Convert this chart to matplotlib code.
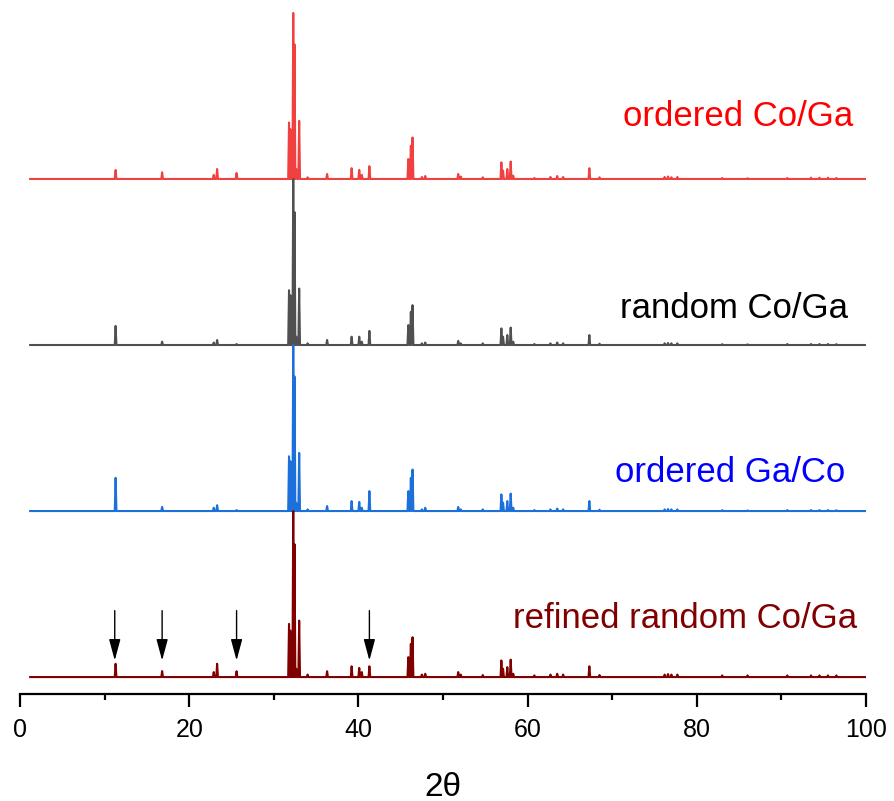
import numpy as np
import matplotlib
matplotlib.use('Agg')
import matplotlib.pyplot as plt

plt.rcParams['font.family'] = ['Liberation Sans', 'DejaVu Sans']

# Peak positions (2 theta) shared by the four patterns
pos_picos = [11.3, 16.8, 22.9, 23.3, 25.6, 31.8, 31.95, 32.3, 32.45, 32.65, 33.0,
             34.0, 36.3, 39.2, 40.1, 40.4, 41.3, 45.9, 46.2, 46.4, 47.5, 47.9,
             51.8, 52.1, 54.7, 56.9, 57.1, 57.6, 58.0, 58.3, 60.8, 62.7, 63.5,
             64.2, 67.3, 68.5, 76.2, 76.6, 77.0, 77.7, 83.0, 86.0, 90.7, 93.5,
             94.5, 95.5, 96.5]

# Relative intensities (max = 1)
int_ordered_coga = [0.054, 0.040, 0.025, 0.060, 0.036, 0.34, 0.30, 1.0, 0.81, 0.06, 0.35,
                    0.010, 0.030, 0.065, 0.055, 0.025, 0.077, 0.12, 0.20, 0.25, 0.012, 0.018,
                    0.030, 0.015, 0.010, 0.10, 0.05, 0.06, 0.105, 0.02, 0.006, 0.012, 0.018,
                    0.012, 0.065, 0.010, 0.012, 0.015, 0.010, 0.012, 0.006, 0.005, 0.006, 0.008,
                    0.008, 0.008, 0.006]
int_random_coga = [0.115, 0.020, 0.015, 0.030, 0.006, 0.33, 0.30, 1.0, 0.80, 0.05, 0.34,
                   0.010, 0.030, 0.050, 0.050, 0.020, 0.085, 0.12, 0.20, 0.24, 0.010, 0.015,
                   0.025, 0.010, 0.010, 0.10, 0.05, 0.06, 0.105, 0.02, 0.006, 0.010, 0.015,
                   0.010, 0.060, 0.008, 0.010, 0.012, 0.010, 0.010, 0.005, 0.004, 0.006, 0.006,
                   0.006, 0.006, 0.005]
int_ordered_gaco = [0.20, 0.025, 0.020, 0.035, 0.006, 0.33, 0.30, 1.0, 0.81, 0.05, 0.35,
                    0.010, 0.030, 0.060, 0.055, 0.020, 0.12, 0.12, 0.20, 0.25, 0.010, 0.020,
                    0.025, 0.010, 0.010, 0.10, 0.05, 0.06, 0.105, 0.02, 0.006, 0.010, 0.015,
                    0.010, 0.060, 0.008, 0.010, 0.012, 0.010, 0.010, 0.005, 0.004, 0.006, 0.006,
                    0.006, 0.006, 0.005]
int_refined = [0.080, 0.036, 0.030, 0.080, 0.035, 0.32, 0.28, 1.0, 0.80, 0.05, 0.34,
               0.015, 0.035, 0.065, 0.055, 0.030, 0.065, 0.12, 0.20, 0.24, 0.015, 0.020,
               0.030, 0.015, 0.012, 0.10, 0.05, 0.06, 0.105, 0.02, 0.010, 0.015, 0.020,
               0.015, 0.065, 0.012, 0.015, 0.018, 0.015, 0.015, 0.010, 0.010, 0.010, 0.010,
               0.010, 0.010, 0.010]

nomes = ['ordered Co/Ga', 'random Co/Ga', 'ordered Ga/Co', 'refined random Co/Ga']
cores_linha = ['#f04040', '#505050', '#1c70dc', '#800000']
cores_texto = ['#ff0000', '#000000', '#0000ff', '#800000']
deslocamentos = [3, 2, 1, 0]
# text anchor (right end, baseline) per pattern
texto_x = [98.5, 97.9, 97.6, 98.9]
texto_y = [3.32, 2.16, 1.175, 0.296]

# arrows marking extra peaks on the refined pattern
setas_x = [11.2, 16.8, 25.6, 41.3]


def perfil(posicoes, intensidades, inicio=1.2, fim=100.0, meia=0.1):
    xs = [inicio]
    ys = [0.0]
    for p, h in zip(posicoes, intensidades):
        xs += [p - meia, p, p + meia]
        ys += [0.0, h, 0.0]
    xs.append(fim)
    ys.append(0.0)
    return np.array(xs), np.array(ys)


fig = plt.figure(figsize=(8.94, 8.01), dpi=100)
ax = fig.add_axes([20 / 894, 107 / 801, 846 / 894, 694 / 801])

series = [int_ordered_coga, int_random_coga, int_ordered_gaco, int_refined]
for inten, cor, off in zip(series, cores_linha, deslocamentos):
    x, y = perfil(pos_picos, inten)
    ax.plot(x, y + off, color=cor, lw=1.5)

for nome, cor, tx, ty in zip(nomes, cores_texto, texto_x, texto_y):
    ax.text(tx, ty, nome, color=cor, fontsize=25, ha='right', va='baseline')

for sx in setas_x:
    ax.annotate('', xy=(sx, 0.10), xytext=(sx, 0.40),
                arrowprops=dict(arrowstyle='-|>,head_length=1.3,head_width=0.35',
                                color='black', lw=1.0, mutation_scale=10,
                                shrinkA=0, shrinkB=0))

ax.set_xlim(0, 100)
ax.set_ylim(-0.102, 4.078)

for lado in ['left', 'top', 'right']:
    ax.spines[lado].set_visible(False)
ax.spines['bottom'].set_linewidth(1.6)
ax.set_yticks([])
ax.set_xticks([0, 20, 40, 60, 80, 100])
ax.set_xticks([10, 30, 50, 70, 90], minor=True)
ax.tick_params(axis='x', which='major', direction='out', length=9, width=1.6,
               labelsize=18, pad=8)
ax.tick_params(axis='x', which='minor', direction='out', length=4.5, width=1.6)
ax.set_xlabel('2θ', fontsize=24)
ax.xaxis.set_label_coords(0.5, -0.112)

fig.savefig('out.png', dpi=100)
